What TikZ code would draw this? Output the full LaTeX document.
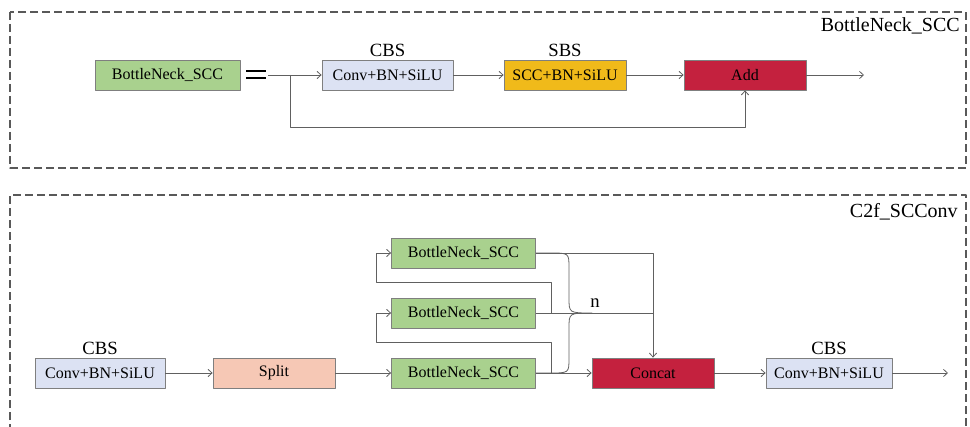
\documentclass[tikz,border=0pt]{standalone}
\usepackage{fontspec}
\setmainfont{Liberation Serif}
\usetikzlibrary{arrows.meta}
\definecolor{bngreen}{HTML}{A9D18E}
\definecolor{cbsblue}{HTML}{DCE2F3}
\definecolor{sbsyellow}{HTML}{F0BA1A}
\definecolor{addred}{HTML}{C4213E}
\definecolor{splitpink}{HTML}{F6C8B5}
\definecolor{boxgray}{HTML}{7F7F7F}
\definecolor{linegray}{HTML}{606060}
\definecolor{framegray}{HTML}{595959}
\begin{document}
\begin{tikzpicture}[x=0.75pt,y=-0.75pt,>={Straight Barb[length=3pt,width=5.5pt]},line join=round,
	blk/.style={draw=boxgray,line width=0.6pt,minimum height=22.5pt,inner sep=0pt,font=\fontsize{12}{14}\selectfont},
	w/.style={minimum width=#1*0.75pt},
	lnk/.style={draw=linegray,line width=0.6pt},
	frame/.style={draw=framegray,line width=1.1pt,dash pattern=on 6pt off 3pt},
	tag/.style={font=\fontsize{14}{16}\selectfont,inner sep=1pt,label distance=1pt},
	title/.style={font=\fontsize{15}{17}\selectfont,inner sep=0pt,anchor=base east}]
	\useasboundingbox (0,0) rectangle (970,427);
	% dashed frames
	\draw[frame] (10,12) rectangle (966,168);
	\draw[frame] (10,432) -- (10,195) -- (966,195) -- (966,432);
	\node[title] at (960,32) {BottleNeck\_SCC};
	\node[title] at (958,218) {C2f\_SCConv};
	% bottleneck
	\node[blk,fill=bngreen,w=145] (bn) at (167.5,75) {BottleNeck\_SCC};
	\draw[line width=2pt] (246,71)--(266,71) (246,78)--(266,78);
	\coordinate (eq) at (268,75);
	\coordinate (tap) at (290,75);
	\node[blk,fill=cbsblue,w=131,label={[tag]above:CBS}] (cbsa) at (387.5,75) {Conv+BN+SiLU};
	\node[blk,fill=sbsyellow,w=122,label={[tag]above:SBS}] (sbs) at (565,75) {SCC+BN+SiLU};
	\node[blk,fill=addred,w=122] (add) at (745,75) {Add};
	\coordinate (outa) at (864,75);
	\draw[lnk,->] (eq) -- (cbsa);
	\draw[lnk,->] (cbsa) -- (sbs);
	\draw[lnk,->] (sbs) -- (add);
	\draw[lnk,->] (add) -- (outa);
	\draw[lnk,->] (tap) -- (290,127) -| (add.south);
	% c2f
	\node[blk,fill=cbsblue,w=130,label={[tag]above:CBS}] (cbsb) at (100,373) {Conv+BN+SiLU};
	\node[blk,fill=splitpink,w=122] (split) at (274,373) {Split};
	\node[blk,fill=bngreen,w=144] (bna) at (463.5,373) {BottleNeck\_SCC};
	\node[blk,fill=bngreen,w=144] (bnb) at (463.5,313) {BottleNeck\_SCC};
	\node[blk,fill=bngreen,w=144] (bnc) at (463.5,253) {BottleNeck\_SCC};
	\node[blk,fill=addred,w=122] (concat) at (653,373) {Concat};
	\node[blk,fill=cbsblue,w=126,label={[tag]above:CBS}] (cbsc) at (829,373) {Conv+BN+SiLU};
	\coordinate (outb) at (948,373);
	\coordinate (loopa) at (551,373);
	\coordinate (loopb) at (551,313);
	\draw[lnk,->] (cbsb) -- (split);
	\draw[lnk,->] (split) -- (bna);
	\draw[lnk,->] (bna) -- (concat);
	\draw[lnk,->] (loopa) |- (376,342) |- (bnb.west);
	\draw[lnk,->] (loopb) |- (376,282) |- (bnc.west);
	\draw[lnk,->] (bnc) -| (concat);
	\draw[lnk] (bnb.east) -- (bnb.east -| concat.north);
	% brace over the n blocks
	\draw[lnk] (bnc.east) -- (550,253) .. controls (569,253) .. (569,268) -- (569,298)
		.. controls (569,313) .. (592,313) .. controls (569,313) .. (569,328) -- (569,358)
		.. controls (569,373) .. (550,373) -- (bna.east);
	\node[font=\fontsize{14}{16}\selectfont,inner sep=0pt,anchor=base] (n) at (595,308) {n};
	\draw[lnk,->] (concat) -- (cbsc);
	\draw[lnk,->] (cbsc) -- (outb);
\end{tikzpicture}
\end{document}
